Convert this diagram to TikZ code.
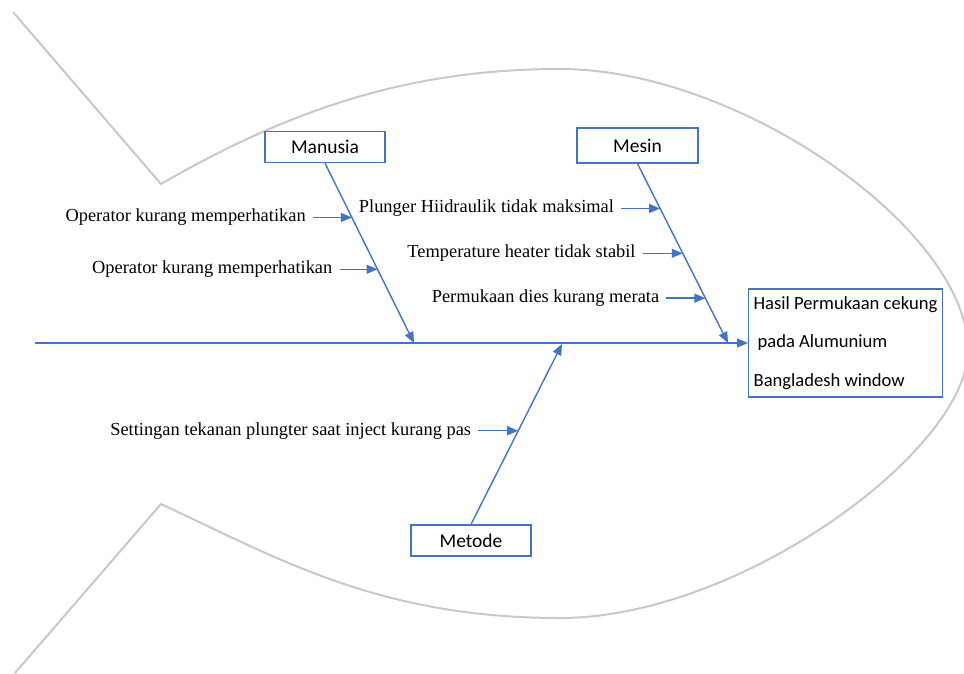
\documentclass[tikz,border=0pt]{standalone}
\usepackage{fontspec}
\setmainfont{Liberation Serif}
\newfontfamily\calib{Carlito}
\usetikzlibrary{arrows.meta}
\definecolor{bl}{HTML}{4472C4}
\definecolor{fishgray}{RGB}{200,200,200}
\begin{document}
\begin{tikzpicture}[x=1pt,y=-1pt,
  fish/.style={draw=fishgray, line width=2pt, line join=miter},
  bone/.style={draw=bl, line width=1.4pt},
  arr/.style={bone, -{Triangle[length=11pt,width=9pt]}},
  cat/.style={draw=bl, line width=1.3pt, fill=white, font=\calib\fontsize{19.5}{23}\selectfont, minimum width=120pt, minimum height=31pt, inner sep=0pt},
  lbl/.style={font=\fontsize{18.4}{22}\selectfont, anchor=east, inner xsep=7pt, inner ysep=0pt}]
\useasboundingbox (0,0) rectangle (964,673);
\clip (0,0) rectangle (964,673);
% fish outline
\draw[fish] (13,12) -- (161,184)
  .. controls (291,109) and (410,69) .. (560,69)
  .. controls (740,69) and (968,230) .. (968,350)
  .. controls (968,450) and (740,618) .. (560,618)
  .. controls (380,618) and (279,559) .. (161,504)
  -- (15,673);
% boxes
\node[cat] (man) at (325,147) {Manusia};
\node[cat, minimum width=121pt, minimum height=35pt] (mes) at (637.5,145.5) {Mesin};
\node[cat] (met) at (471,540.5) {Metode};
\node[draw=bl, line width=1.3pt, fill=white, minimum width=193pt, minimum height=108pt, inner xsep=5pt, inner ysep=0pt, align=left, font=\calib\fontsize{18.6}{38.5}\selectfont] (eff) at (845.5,343) {Hasil Permukaan cekung\\\hspace*{4pt}pada Alumunium\\Bangladesh window};
% spine
\coordinate (ax) at (35,343);
\draw[arr] (ax) -- (eff.west);
% bones
\coordinate (tipM) at (414,343);
\coordinate (tipS) at (728,343);
\coordinate (tipD) at (562,344);
\path (man.south) -- (tipM) coordinate[pos=0.302] (b1) coordinate[pos=0.590] (b2);
\path (mes.south) -- (tipS) coordinate[pos=0.25] (s1) coordinate[pos=0.5] (s2) coordinate[pos=0.75] (s3);
\path (met.north) -- (tipD) coordinate[pos=0.519] (d1);
\draw[arr] (man.south) -- (tipM);
\draw[arr] (mes.south) -- (tipS);
\draw[arr] (met.north) -- (tipD);
% causes
\node[lbl] (t1) at ([xshift=-39pt]b1) {Operator kurang memperhatikan};
\node[lbl] (t2) at ([xshift=-38pt]b2) {Operator kurang memperhatikan};
\node[lbl] (t3) at ([xshift=-39pt]s1) {Plunger Hiidraulik tidak maksimal};
\node[lbl] (t4) at ([xshift=-40pt]s2) {Temperature heater tidak stabil};
\node[lbl] (t5) at ([xshift=-39pt]s3) {Permukaan dies kurang merata};
\node[lbl] (t6) at ([xshift=-40pt]d1) {Settingan tekanan plungter saat inject kurang pas};
\draw[arr] (t1.east) -- (b1);
\draw[arr] (t2.east) -- (b2);
\draw[arr] (t3.east) -- (s1);
\draw[arr] (t4.east) -- (s2);
\draw[arr] (t5.east) -- (s3);
\draw[arr] (t6.east) -- (d1);
\end{tikzpicture}
\end{document}
